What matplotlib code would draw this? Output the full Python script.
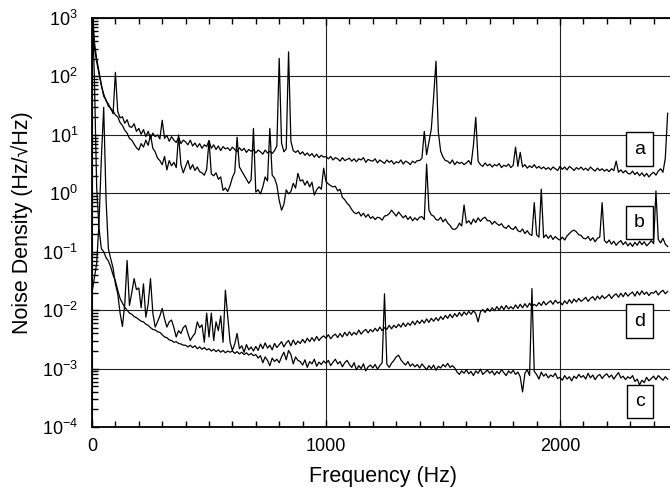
"""Noise density spectra a-d, log scale, 0-2.5 kHz."""
import numpy as np
import matplotlib
matplotlib.use("Agg")
import matplotlib.pyplot as plt
from matplotlib.ticker import FixedLocator, MultipleLocator, NullFormatter

plt.rcParams["font.family"] = ["Liberation Sans", "DejaVu Sans"]
plt.rcParams["mathtext.default"] = "regular"

# frequency bins (Hz), 10 Hz resolution
freq = np.arange(0, 2470, 10)

# log10 of noise density, one row per 100 Hz
a_log = [
    3.30, 2.60, 2.30, 2.08, 1.86, 1.66, 1.60, 1.49, 1.46, 1.36,
    2.07, 1.40, 1.29, 1.31, 1.20, 1.26, 1.14, 1.13, 1.19, 1.06,
    1.11, 1.01, 1.09, 0.97, 1.06, 0.94, 1.03, 0.97, 1.00, 0.93,
    1.25, 0.94, 0.99, 0.89, 0.97, 0.91, 0.87, 0.96, 0.85, 0.91,
    0.88, 0.83, 0.91, 0.81, 0.86, 0.79, 0.85, 0.77, 0.83, 0.80,
    0.90, 0.77, 0.83, 0.75, 0.81, 0.73, 0.80, 0.76, 0.78, 0.73,
    0.79, 0.75, 0.71, 0.78, 0.73, 0.77, 0.70, 0.75, 0.72, 0.75,
    0.69, 0.74, 0.71, 0.67, 0.74, 0.69, 0.72, 0.68, 0.73, 0.81,
    2.31, 0.86, 0.71, 0.76, 2.42, 0.89, 0.73, 0.70, 0.73, 0.67,
    0.71, 0.65, 0.69, 0.64, 0.68, 0.62, 0.67, 0.61, 0.65, 0.62,
    0.63, 0.59, 0.63, 0.57, 0.61, 0.59, 0.55, 0.61, 0.56, 0.58,
    0.60, 0.55, 0.59, 0.54, 0.59, 0.57, 0.61, 0.53, 0.58, 0.56,
    0.55, 0.59, 0.52, 0.57, 0.54, 0.51, 0.57, 0.53, 0.56, 0.50,
    0.54, 0.52, 0.57, 0.50, 0.55, 0.53, 0.49, 0.55, 0.52, 0.56,
    0.56, 0.60, 1.06, 0.66, 0.88, 1.10, 1.65, 2.26, 1.05, 0.72,
    0.62, 0.56, 0.55, 0.51, 0.57, 0.49, 0.54, 0.51, 0.53, 0.49,
    0.52, 0.56, 0.49, 0.82, 1.30, 0.55, 0.49, 0.46, 0.52, 0.47,
    0.50, 0.45, 0.49, 0.47, 0.51, 0.44, 0.48, 0.46, 0.50, 0.44,
    0.48, 0.79, 0.46, 0.70, 0.45, 0.49, 0.43, 0.47, 0.44, 0.49,
    0.43, 0.46, 0.42, 0.45, 0.41, 0.44, 0.40, 0.45, 0.42, 0.39,
    0.46, 0.41, 0.45, 0.40, 0.46, 0.43, 0.39, 0.44, 0.41, 0.45,
    0.40, 0.43, 0.39, 0.45, 0.41, 0.38, 0.43, 0.39, 0.42, 0.38,
    0.41, 0.37, 0.42, 0.39, 0.55, 0.36, 0.40, 0.35, 0.39, 0.34,
    0.33, 0.38, 0.32, 0.36, 0.30, 0.35, 0.29, 0.34, 0.28, 0.33,
    0.36, 0.31, 0.38, 0.42, 0.36, 0.60, 1.37,
]

b_log = [
    3.20, 2.50, 2.25, 2.04, 1.84, 1.70, 1.58, 1.53, 1.44, 1.41,
    1.34, 1.31, 1.21, 1.16, 1.08, 1.03, 0.94, 0.91, 0.84, 0.78,
    0.74, 0.85, 0.79, 0.91, 0.82, 1.00, 0.77, 0.71, 0.60, 0.56,
    0.49, 0.63, 0.40, 0.56, 0.47, 0.53, 0.44, 1.00, 0.49, 0.35,
    0.46, 0.56, 0.41, 0.49, 0.39, 0.45, 0.37, 0.35, 0.31, 0.41,
    0.90, 0.33, 0.30, 0.35, 0.24, 0.28, 0.05, 0.09, 0.03, 0.13,
    0.27, 0.36, 0.96, 0.45, 0.38, 0.31, 0.24, 0.17, 0.23, 1.11,
    0.02, 0.06, -0.01, 0.11, 0.28, 0.21, 1.11, 0.31, 0.26, 0.14,
    -0.12, -0.29, -0.19, 0.06, -0.01, 0.03, 0.17, 0.09, 0.34, 0.21,
    0.23, 0.14, 0.21, 0.11, 0.19, -0.03, 0.06, 0.11, 0.07, 0.43,
    0.20, 0.16, 0.13, 0.11, 0.12, 0.04, 0.07, -0.07, -0.11, -0.17,
    -0.21, -0.28, -0.33, -0.35, -0.32, -0.39, -0.34, -0.41, -0.36, -0.43,
    -0.40, -0.45, -0.41, -0.42, -0.46, -0.39, -0.38, -0.35, -0.29, -0.34,
    -0.39, -0.32, -0.37, -0.42, -0.38, -0.45, -0.40, -0.47, -0.42, -0.46,
    -0.41, -0.40, -0.45, 0.50, -0.29, -0.37, -0.39, -0.45, -0.46, -0.41,
    -0.49, -0.44, -0.51, -0.55, -0.61, -0.62, -0.59, -0.51, -0.56, -0.20,
    -0.51, -0.47, -0.53, -0.44, -0.50, -0.42, -0.48, -0.43, -0.41, -0.47,
    -0.47, -0.53, -0.48, -0.52, -0.55, -0.52, -0.58, -0.60, -0.55, -0.60,
    -0.62, -0.57, -0.64, -0.66, -0.61, -0.69, -0.64, -0.70, -0.72, -0.16,
    -0.71, -0.75, 0.07, -0.76, -0.71, -0.77, -0.72, -0.79, -0.74, -0.78,
    -0.80, -0.75, -0.80, -0.73, -0.69, -0.65, -0.63, -0.66, -0.71, -0.72,
    -0.77, -0.78, -0.74, -0.81, -0.76, -0.83, -0.77, -0.75, -0.16, -0.81,
    -0.85, -0.80, -0.87, -0.82, -0.89, -0.84, -0.81, -0.88, -0.83, -0.90,
    -0.85, -0.91, -0.84, -0.89, -0.82, -0.88, -0.83, -0.90, -0.86, -0.81,
    -0.86, 0.04, -0.79, -0.85, -0.77, -0.87, -0.91,
]

c_log = [
    3.30, 2.00, 0.10, -0.60, -0.95, -1.00, -1.10, -1.16, -1.26, -1.40,
    -1.50, -1.66, -1.80, -1.88, -1.95, -2.00, -2.05, -2.07, -2.11, -2.13,
    -2.16, -2.19, -2.20, -2.24, -2.26, -2.30, -2.33, -2.34, -2.37, -2.38,
    -2.42, -2.46, -2.47, -2.51, -2.52, -2.55, -2.54, -2.57, -2.58, -2.60,
    -2.60, -2.63, -2.60, -2.64, -2.61, -2.66, -2.63, -2.67, -2.64, -2.68,
    -2.66, -2.70, -2.67, -2.71, -2.68, -2.72, -2.69, -2.73, -2.70, -2.72,
    -2.70, -2.74, -2.71, -2.75, -2.72, -2.76, -2.73, -2.77, -2.74, -2.78,
    -2.76, -2.82, -2.78, -2.90, -2.80, -2.86, -2.95, -2.82, -2.88, -2.84,
    -2.90, -2.80, -2.72, -2.85, -2.69, -2.76, -2.92, -2.80, -2.86, -2.88,
    -2.94, -2.85, -2.98, -2.88, -2.92, -2.84, -2.96, -2.89, -2.93, -2.87,
    -2.91, -2.86, -2.95, -2.89, -2.84, -2.92, -2.88, -2.97, -2.90, -2.86,
    -2.93, -2.98, -2.90, -3.02, -2.95, -3.00, -2.92, -3.04, -2.97, -2.94,
    -2.99, -2.93, -3.01, -2.95, -2.90, -1.72, -2.92, -2.98, -2.91, -2.86,
    -2.80, -2.77, -2.85, -2.90, -2.94, -2.88, -2.96, -2.92, -2.97, -2.93,
    -2.99, -2.92, -2.97, -3.02, -2.95, -3.00, -2.94, -3.03, -2.96, -2.99,
    -2.93, -2.97, -2.91, -2.98, -2.95, -2.99, -3.06, -3.10, -3.04, -3.08,
    -3.02, -3.09, -3.05, -3.12, -3.04, -3.08, -3.01, -3.10, -3.06, -3.03,
    -3.08, -3.04, -3.11, -3.05, -3.09, -3.02, -3.07, -3.12, -3.04, -3.08,
    -3.03, -3.10, -3.06, -3.14, -3.40, -3.08, -3.02, -3.12, -1.63, -3.05,
    -3.10, -3.18, -3.06, -3.13, -3.09, -3.16, -3.11, -3.14, -3.08, -3.17,
    -3.15, -3.20, -3.12, -3.18, -3.14, -3.21, -3.13, -3.17, -3.10, -3.15,
    -3.12, -3.18, -3.08, -3.16, -3.11, -3.19, -3.13, -3.10, -3.17, -3.12,
    -3.09, -3.15, -3.11, -3.18, -3.12, -3.07, -3.16, -3.13, -3.19, -3.14,
    -3.17, -3.12, -3.22, -3.18, -3.28, -3.20, -3.24, -3.15, -3.21, -3.17,
    -3.13, -3.19, -3.12, -3.16, -3.20, -3.14, -3.18,
]

d_log = [
    -1.70, -1.45, -1.20, -0.50, 0.60, 1.47, -0.10, -0.95, -1.12, -1.28,
    -1.55, -1.72, -2.05, -2.28, -1.90, -1.15, -1.92, -1.70, -1.46, -1.65,
    -1.62, -1.96, -1.55, -2.12, -1.90, -1.46, -2.05, -2.29, -2.20, -2.10,
    -1.97, -2.15, -2.29, -2.20, -2.17, -2.30, -2.46, -2.35, -2.40, -2.30,
    -2.26, -2.40, -2.52, -2.45, -2.40, -2.20, -2.30, -2.25, -2.55, -2.05,
    -2.46, -2.05, -2.52, -2.20, -2.35, -2.10, -2.55, -1.66, -2.10, -2.55,
    -2.69, -2.58, -2.40, -2.66, -2.61, -2.72, -2.59, -2.68, -2.63, -2.70,
    -2.62, -2.69, -2.58, -2.66, -2.56, -2.65, -2.60, -2.68, -2.57, -2.64,
    -2.59, -2.54, -2.63, -2.56, -2.52, -2.61, -2.51, -2.59, -2.53, -2.57,
    -2.50, -2.56, -2.48, -2.54, -2.47, -2.53, -2.45, -2.52, -2.47, -2.44,
    -2.48, -2.42, -2.49, -2.44, -2.41, -2.47, -2.40, -2.46, -2.38, -2.44,
    -2.37, -2.43, -2.38, -2.42, -2.34, -2.41, -2.36, -2.33, -2.39, -2.33,
    -2.37, -2.31, -2.36, -2.29, -2.35, -2.30, -2.33, -2.26, -2.32, -2.26,
    -2.30, -2.24, -2.29, -2.22, -2.28, -2.22, -2.26, -2.19, -2.25, -2.18,
    -2.23, -2.17, -2.22, -2.15, -2.21, -2.14, -2.19, -2.13, -2.18, -2.11,
    -2.16, -2.09, -2.14, -2.07, -2.13, -2.06, -2.11, -2.04, -2.10, -2.03,
    -2.08, -2.02, -2.07, -2.01, -2.06, -2.20, -2.03, -1.99, -2.04, -1.97,
    -2.02, -1.96, -2.01, -1.94, -2.00, -1.93, -1.99, -1.92, -1.98, -1.94,
    -1.98, -1.91, -1.97, -1.90, -1.96, -1.89, -1.95, -1.88, -1.94, -1.90,
    -1.93, -1.87, -1.92, -1.85, -1.91, -1.87, -1.84, -1.90, -1.83, -1.88,
    -1.86, -1.91, -1.84, -1.89, -1.82, -1.88, -1.81, -1.86, -1.80, -1.85,
    -1.82, -1.78, -1.85, -1.80, -1.77, -1.83, -1.76, -1.81, -1.75, -1.80,
    -1.77, -1.73, -1.80, -1.75, -1.72, -1.78, -1.71, -1.77, -1.70, -1.76,
    -1.72, -1.69, -1.76, -1.68, -1.74, -1.67, -1.73, -1.69, -1.75, -1.70,
    -1.71, -1.67, -1.74, -1.69, -1.66, -1.72, -1.68,
]

series = {"a": a_log, "b": b_log, "c": c_log, "d": d_log}
# where the boxed curve labels sit (Hz, density)
label_pos = {"a": (2340, 5.7), "b": (2340, 0.32), "c": (2340, 2.7e-4), "d": (2340, 6.5e-3)}

x_major = [0, 1000, 2000]
y_decades = [1e-4, 1e-3, 1e-2, 1e-1, 1e0, 1e1, 1e2, 1e3]

fig = plt.figure(figsize=(6.7, 4.91), dpi=100)
ax = fig.add_axes([92 / 670, 1 - 427 / 491, 585 / 670, 409 / 491])

for name, vals in series.items():
    ax.plot(freq, 10 ** np.asarray(vals), color="k", lw=0.9)

ax.set_yscale("log")
ax.set_ylim(1e-4, 1e3)
ax.set_xlim(0, 2500)

ax.xaxis.set_major_locator(FixedLocator(x_major))
ax.xaxis.set_minor_locator(MultipleLocator(100))
ax.yaxis.set_major_locator(FixedLocator(y_decades))
ax.yaxis.set_minor_locator(FixedLocator(
    [m * d for d in y_decades[:-1] for m in range(2, 10)]))
ax.yaxis.set_minor_formatter(NullFormatter())

ax.tick_params(which="both", direction="in", top=True, right=False,
               labelsize=13, width=1.0)
ax.tick_params(axis="x", pad=8)
ax.tick_params(axis="y", pad=10)
ax.tick_params(which="major", length=5)
ax.tick_params(which="minor", length=4)
ax.spines["right"].set_visible(False)
for s in ("left", "bottom", "top"):
    ax.spines[s].set_linewidth(1.3)

ax.grid(True, which="major", color="#222222", lw=0.8)

ax.set_xlabel("Frequency (Hz)", fontsize=15.5)
ax.set_ylabel("Noise Density (Hz/\u221aHz)", fontsize=15.5)
ax.xaxis.set_label_coords((383 - 92) / 585, (427 - 466) / 409)
ax.yaxis.set_label_coords((33 - 92) / 585, 0.5)

for name, (x, y) in label_pos.items():
    ax.text(x, y, name, fontsize=14, ha="center", va="center",
            bbox=dict(boxstyle="square,pad=0.42", fc="white", ec="k", lw=1.0))

fig.savefig("out.png", dpi=100)
